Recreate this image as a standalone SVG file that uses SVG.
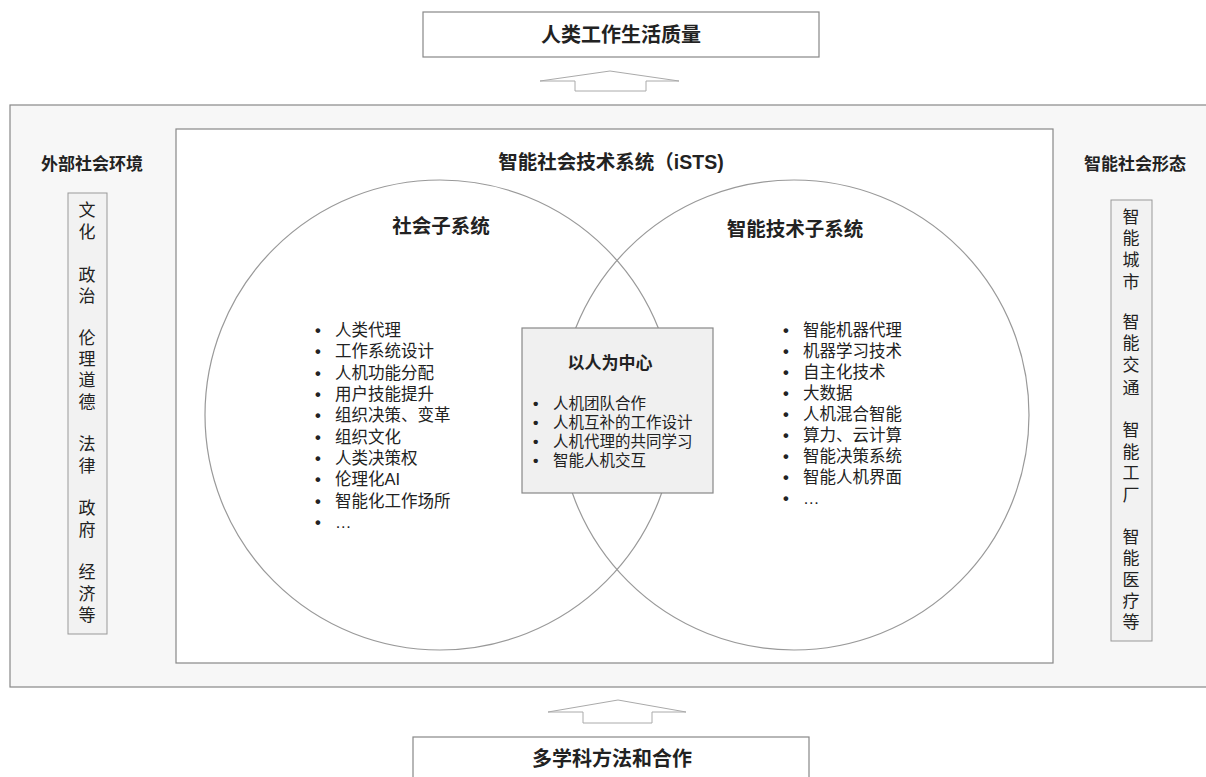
<svg xmlns="http://www.w3.org/2000/svg" width="1206" height="777" viewBox="0 0 1206 777">
<style>
text{font-family:"Liberation Sans","Noto Sans CJK SC",sans-serif;fill:#222}
.title{font-size:19.5px;font-weight:bold}
.side{font-size:17px;font-weight:bold;text-anchor:middle}
.vt{font-size:17px;text-anchor:middle}
.li{font-size:16.5px}
.ci{font-size:15.5px}
.b{font-weight:bold}
.box{fill:#fff;stroke:#888;stroke-width:1.2}
.arrow{fill:#fff;stroke:#aaa;stroke-width:1}
</style>
<rect width="1206" height="777" fill="#fff"/>
<g id="top-box">
<rect class="box" x="423" y="12" width="396" height="45"/>
<text class="title" x="621" y="42" text-anchor="middle" style="font-size:20px">人类工作生活质量</text>
</g>
<g id="connectors">
<polygon class="arrow" points="540,81 610,71 679,81 646,81 646,91 575,91 575,81"/>
<polygon class="arrow" points="548,712 618,700 686,712 652,712 652,723 583,723 583,712"/>
</g>
<g id="outer">
<rect x="10" y="105" width="1210" height="582" fill="#f7f7f7" stroke="#888" stroke-width="1.2"/>
</g>
<g id="external">
<text class="side" x="92" y="170">外部社会环境</text>
<rect x="68" y="193" width="39" height="441" fill="#f2f2f2" stroke="#999"/>
<text class="vt"><tspan x="87" y="216">文</tspan><tspan x="87" y="238">化</tspan></text>
<text class="vt"><tspan x="87" y="281">政</tspan><tspan x="87" y="302">治</tspan></text>
<text class="vt"><tspan x="87" y="344">伦</tspan><tspan x="87" y="365">理</tspan><tspan x="87" y="386">道</tspan><tspan x="87" y="408">德</tspan></text>
<text class="vt"><tspan x="87" y="450">法</tspan><tspan x="87" y="472">律</tspan></text>
<text class="vt"><tspan x="87" y="514">政</tspan><tspan x="87" y="536">府</tspan></text>
<text class="vt"><tspan x="87" y="578">经</tspan><tspan x="87" y="600">济</tspan><tspan x="87" y="621">等</tspan></text>
</g>
<g id="form">
<text class="side" x="1135" y="170">智能社会形态</text>
<rect x="1111" y="200" width="41" height="441" fill="#f2f2f2" stroke="#999"/>
<text class="vt"><tspan x="1131" y="223">智</tspan><tspan x="1131" y="244">能</tspan><tspan x="1131" y="266">城</tspan><tspan x="1131" y="288">市</tspan></text>
<text class="vt"><tspan x="1131" y="328">智</tspan><tspan x="1131" y="349">能</tspan><tspan x="1131" y="371">交</tspan><tspan x="1131" y="394">通</tspan></text>
<text class="vt"><tspan x="1131" y="436">智</tspan><tspan x="1131" y="458">能</tspan><tspan x="1131" y="479">工</tspan><tspan x="1131" y="501">厂</tspan></text>
<text class="vt"><tspan x="1131" y="543">智</tspan><tspan x="1131" y="564">能</tspan><tspan x="1131" y="586">医</tspan><tspan x="1131" y="607">疗</tspan><tspan x="1131" y="628">等</tspan></text>
</g>
<g id="ists">
<rect x="176" y="129" width="877" height="534" fill="#fff" stroke="#888" stroke-width="1.2"/>
<text class="title" x="611" y="169" text-anchor="middle">智能社会技术系统（iSTS)</text>
</g>
<g id="social">
<circle cx="440" cy="415" r="235" fill="none" stroke="#999" stroke-width="1.2"/>
<text class="title" x="441" y="233" text-anchor="middle">社会子系统</text>
<text class="li">
<tspan class="b" x="315" y="336">•</tspan><tspan x="335" y="336">人类代理</tspan>
<tspan class="b" x="315" y="357">•</tspan><tspan x="335" y="357">工作系统设计</tspan>
<tspan class="b" x="315" y="379">•</tspan><tspan x="335" y="379">人机功能分配</tspan>
<tspan class="b" x="315" y="400">•</tspan><tspan x="335" y="400">用户技能提升</tspan>
<tspan class="b" x="315" y="421">•</tspan><tspan x="335" y="421">组织决策、变革</tspan>
<tspan class="b" x="315" y="443">•</tspan><tspan x="335" y="443">组织文化</tspan>
<tspan class="b" x="315" y="464">•</tspan><tspan x="335" y="464">人类决策权</tspan>
<tspan class="b" x="315" y="485">•</tspan><tspan x="335" y="485">伦理化AI</tspan>
<tspan class="b" x="315" y="507">•</tspan><tspan x="335" y="507">智能化工作场所</tspan>
<tspan class="b" x="315" y="528">•</tspan><tspan x="335" y="528">…</tspan>
</text>
</g>
<g id="tech">
<circle cx="794" cy="415" r="235" fill="none" stroke="#999" stroke-width="1.2"/>
<text class="title" x="795" y="236" text-anchor="middle">智能技术子系统</text>
<text class="li">
<tspan class="b" x="783" y="336">•</tspan><tspan x="803" y="336">智能机器代理</tspan>
<tspan class="b" x="783" y="357">•</tspan><tspan x="803" y="357">机器学习技术</tspan>
<tspan class="b" x="783" y="378">•</tspan><tspan x="803" y="378">自主化技术</tspan>
<tspan class="b" x="783" y="399">•</tspan><tspan x="803" y="399">大数据</tspan>
<tspan class="b" x="783" y="420">•</tspan><tspan x="803" y="420">人机混合智能</tspan>
<tspan class="b" x="783" y="441">•</tspan><tspan x="803" y="441">算力、云计算</tspan>
<tspan class="b" x="783" y="462">•</tspan><tspan x="803" y="462">智能决策系统</tspan>
<tspan class="b" x="783" y="483">•</tspan><tspan x="803" y="483">智能人机界面</tspan>
<tspan class="b" x="783" y="504">•</tspan><tspan x="803" y="504">…</tspan>
</text>
</g>
<g id="center">
<rect x="522" y="328" width="191" height="165" fill="#f0f0f0" stroke="#888" stroke-width="1.2"/>
<text class="title" x="610" y="369" text-anchor="middle" style="font-size:17px">以人为中心</text>
<text class="ci">
<tspan class="b" x="533" y="409">•</tspan><tspan x="553" y="409">人机团队合作</tspan>
<tspan class="b" x="533" y="428">•</tspan><tspan x="553" y="428">人机互补的工作设计</tspan>
<tspan class="b" x="533" y="447">•</tspan><tspan x="553" y="447">人机代理的共同学习</tspan>
<tspan class="b" x="533" y="466">•</tspan><tspan x="553" y="466">智能人机交互</tspan>
</text>
</g>
<g id="bottom-box">
<rect class="box" x="413" y="737" width="396" height="60"/>
<text class="title" x="612" y="766" text-anchor="middle" style="font-size:20px">多学科方法和合作</text>
</g>
</svg>
